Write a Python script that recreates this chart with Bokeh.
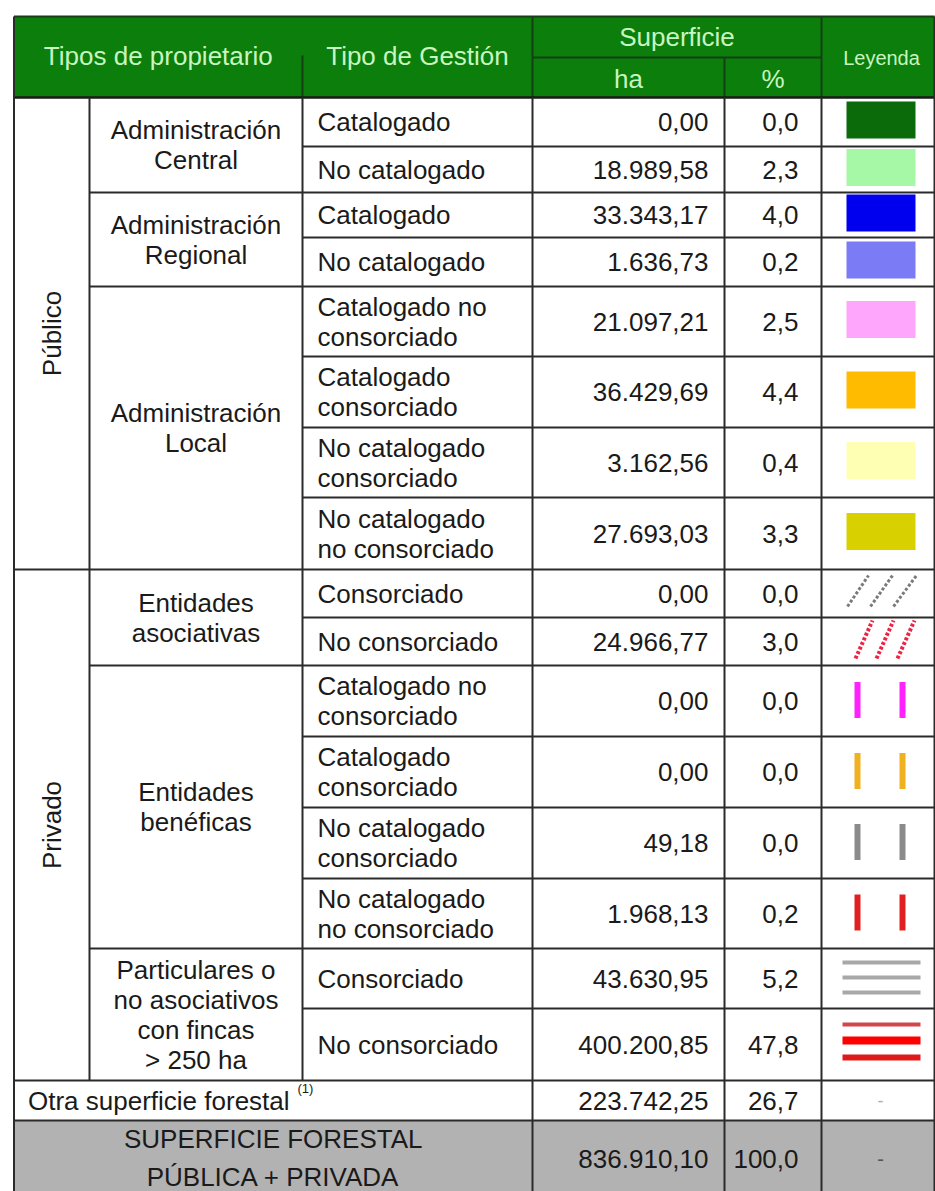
import math
from bokeh.plotting import figure
from bokeh.models import Range1d, ColumnDataSource
from bokeh.core.properties import value
from bokeh.embed import file_html
from bokeh.resources import INLINE

# ---------------- DATA ----------------
sectors = ["Público", "Privado"]
sector_rows = [8, 8]

owners = [
    "Administración\nCentral",
    "Administración\nRegional",
    "Administración\nLocal",
    "Entidades\nasociativas",
    "Entidades\nbenéficas",
    "Particulares o\nno asociativos\ncon fincas\n> 250 ha",
]
owner_rows = [2, 2, 4, 2, 4, 2]

gestion = [
    "Catalogado", "No catalogado",
    "Catalogado", "No catalogado",
    "Catalogado no\nconsorciado", "Catalogado\nconsorciado",
    "No catalogado\nconsorciado", "No catalogado\nno consorciado",
    "Consorciado", "No consorciado",
    "Catalogado no\nconsorciado", "Catalogado\nconsorciado",
    "No catalogado\nconsorciado", "No catalogado\nno consorciado",
    "Consorciado", "No consorciado",
]
ha = [0.00, 18989.58, 33343.17, 1636.73, 21097.21, 36429.69, 3162.56, 27693.03,
      0.00, 24966.77, 0.00, 0.00, 49.18, 1968.13, 43630.95, 400200.85]
pct = [0.0, 2.3, 4.0, 0.2, 2.5, 4.4, 0.4, 3.3, 0.0, 3.0, 0.0, 0.0, 0.0, 0.2, 5.2, 47.8]

other_label = "Otra superficie forestal"
other_note = "(1)"
other_ha = 223742.25
other_pct = 26.7

total_label = "SUPERFICIE FORESTAL\nPÚBLICA + PRIVADA"
total_ha = 836910.10
total_pct = 100.0

header_cols = ["Tipos de propietario", "Tipo de Gestión", "Superficie", "ha", "%", "Leyenda"]

# ---------------- STYLES / LAYOUT ----------------
legend_kind = ["box"] * 8 + ["hatch", "hatch"] + ["bars"] * 4 + ["lines_grey", "lines_red"]
legend_color = ["#0b6b0b", "#a6f7a6", "#0000ee", "#7b7bf5", "#fea6fb", "#ffbb00",
                "#ffffb3", "#d9d000", "#7a7a7a", "#ee2244", "#ff22ff", "#f0b020",
                "#8a8a8a", "#e02020", "#a8a8a8", "#e01a1a"]

FONT = "Liberation Sans"
LINE = "#2b2b2b"
HDR_BG = "#0b7e0b"
HDR_TXT = "#c8f5c0"
HDR_LINE = "#163f16"

W, H = 935, 1191
XL, X1, X2, X3, X4, X5, XR = 13.5, 89, 302, 532, 724, 821, 934
TOP, SUB, HBOT = 16, 57, 97
row_edges = [97, 146, 192, 237, 286, 356, 427, 497, 569, 617, 665, 736, 807, 878, 948, 1008, 1080]
OTHER = (1080, 1120)
TOTAL = (1120, 1191)
LH = 30

p = figure(width=W, height=H, x_range=Range1d(0, W), y_range=Range1d(H, 0),
           output_backend="svg", toolbar_location=None, x_axis_type=None, y_axis_type=None,
           min_border=0)
p.grid.visible = False
p.outline_line_color = None
p.background_fill_color = "white"
p.border_fill_color = "white"

# backgrounds
p.quad(left=[XL], right=[XR], top=[TOP], bottom=[HBOT], fill_color=HDR_BG, line_color=None)
p.quad(left=[XL], right=[XR], top=[TOTAL[0]], bottom=[TOTAL[1]], fill_color="#b2b2b2", line_color=None)

# ---------------- texts ----------------
groups = {}
def put(x, y, s, size="26px", color="#1a1a1a", align="left", angle=0.0, lh=LH):
    lines = s.split("\n")
    n = len(lines)
    key = (size, color, align, angle)
    g = groups.setdefault(key, {"x": [], "y": [], "text": []})
    for i, ln in enumerate(lines):
        off = (i - (n - 1) / 2) * lh
        if angle:
            g["x"].append(x + off)
            g["y"].append(y)
        else:
            g["x"].append(x)
            g["y"].append(y + off)
        g["text"].append(ln)

def fmt(v, d):
    s = f"{v:,.{d}f}"
    return s.replace(",", "#").replace(".", ",").replace("#", ".")

# header
put((XL + X2) / 2, 55, header_cols[0], color=HDR_TXT, align="center")
put((X2 + X3) / 2, 55, header_cols[1], color=HDR_TXT, align="center")
put((X3 + X5) / 2, 36, header_cols[2], color=HDR_TXT, align="center")
put((X3 + X4) / 2, 78, header_cols[3], color=HDR_TXT, align="center")
put((X4 + X5) / 2, 78, header_cols[4], color=HDR_TXT, align="center")
put(881, 57, header_cols[5], size="20px", color=HDR_TXT, align="center")

# sectors
r = 0
for s, n in zip(sectors, sector_rows):
    y0, y1 = row_edges[r], row_edges[r + n]
    put((XL + X1) / 2 + 0.5, (y0 + y1) / 2, s, align="center", angle=math.pi / 2)
    r += n

# owners
r = 0
owner_bounds = []
for o, n in zip(owners, owner_rows):
    y0, y1 = row_edges[r], row_edges[r + n]
    put((X1 + X2) / 2, (y0 + y1) / 2, o, align="center")
    owner_bounds.append(r + n)
    r += n

# rows
for i in range(len(gestion)):
    yc = (row_edges[i] + row_edges[i + 1]) / 2
    put(X2 + 15, yc, gestion[i])
    put(X4 - 16, yc, fmt(ha[i], 2), align="right")
    put(X5 - 23, yc, fmt(pct[i], 1), align="right")

# other row
yo = sum(OTHER) / 2
put(XL + 14, yo, other_label)
put(297, yo - 12, other_note, size="13px")
put(X4 - 16, yo, fmt(other_ha, 2), align="right")
put(X5 - 23, yo, fmt(other_pct, 1), align="right")
put(880, yo, "-", size="18px", color="#b0b0b0", align="center")

# total row
put((XL + X3) / 2, 1157, total_label, align="center", lh=38)
put(X4 - 16, 1158, fmt(total_ha, 2), align="right")
put(X5 - 23, 1158, fmt(total_pct, 1), align="right")
put(880, 1158, "-", size="20px", color="#555555", align="center")

for (size, color, align, angle), g in groups.items():
    p.text(x="x", y="y", text="text", source=ColumnDataSource(g), text_font=value(FONT),
           text_font_size=size, text_color=color, text_align=align,
           text_baseline="middle", angle=angle)

# ---------------- legend marks ----------------
bx = {"l": [], "r": [], "t": [], "b": [], "c": []}
seg = {"x0": [], "y0": [], "x1": [], "y1": [], "c": [], "w": []}
dseg = {"x0": [], "y0": [], "x1": [], "y1": [], "c": [], "w": []}
for i, (k, c) in enumerate(zip(legend_kind, legend_color)):
    yc = (row_edges[i] + row_edges[i + 1]) / 2
    if k == "box":
        bx["l"].append(846); bx["r"].append(915)
        bx["t"].append(yc - 20.5); bx["b"].append(yc + 16.5); bx["c"].append(c)
    elif k == "bars":
        for xb in (857, 902):
            bx["l"].append(xb - 3); bx["r"].append(xb + 3)
            bx["t"].append(yc - 19); bx["b"].append(yc + 17); bx["c"].append(c)
    elif k == "hatch":
        if i == 8:
            pts = [(847, 606, 868, 575), (870, 606, 892, 575), (893, 606, 916, 575)]
        else:
            pts = [(855, 658, 872, 620), (876, 658, 893, 620), (897, 658, 914, 620)]
        for (a, b_, c_, d) in pts:
            dseg["x0"].append(a); dseg["y0"].append(b_); dseg["x1"].append(c_); dseg["y1"].append(d)
            dseg["c"].append(c); dseg["w"].append(3.0 if i == 8 else 4.0)
    elif k == "lines_grey":
        for off in (-16, -1, 14):
            seg["x0"].append(842); seg["x1"].append(920)
            seg["y0"].append(yc + off); seg["y1"].append(yc + off)
            seg["c"].append(c); seg["w"].append(4)
    elif k == "lines_red":
        for off, w, cc in ((-20, 4, "#d04848"), (-4, 8, "#ff0000"), (13, 6, c)):
            seg["x0"].append(842); seg["x1"].append(920)
            seg["y0"].append(yc + off); seg["y1"].append(yc + off)
            seg["c"].append(cc); seg["w"].append(w)

p.quad(left="l", right="r", top="t", bottom="b", fill_color="c", line_color=None,
       source=ColumnDataSource(bx))
p.segment(x0="x0", y0="y0", x1="x1", y1="y1", line_color="c", line_width="w",
          source=ColumnDataSource(seg))
p.segment(x0="x0", y0="y0", x1="x1", y1="y1", line_color="c", line_width="w",
          line_dash="3 2", source=ColumnDataSource(dseg))

# ---------------- grid lines ----------------
g = {"x0": [], "y0": [], "x1": [], "y1": [], "c": [], "w": []}
def L(x0, y0, x1, y1, c=LINE, w=2):
    g["x0"].append(x0); g["y0"].append(y0); g["x1"].append(x1); g["y1"].append(y1)
    g["c"].append(c); g["w"].append(w)

# header lines
L(XL, TOP, XR, TOP, HDR_LINE, 2)
L(X3, SUB, X5, SUB, HDR_LINE, 2)
L(X4, SUB, X4, HBOT, HDR_LINE, 2)
L(X3, TOP, X3, HBOT, HDR_LINE, 2)
L(X5, TOP, X5, HBOT, HDR_LINE, 2)
L(X2, 55, X2, HBOT, HDR_LINE, 2)
L(XL, HBOT, XR, HBOT, "#1a1a1a", 2.5)

# verticals
L(XL, TOP, XL, TOTAL[1])
L(X1, HBOT, X1, OTHER[0])
L(X2, HBOT, X2, OTHER[0])
L(X3, HBOT, X3, TOTAL[1])
L(X4, HBOT, X4, TOTAL[1])
L(X5, HBOT, X5, TOTAL[1])
L(XR, TOP, XR, TOTAL[1])

# horizontals
sector_ends = []
acc = 0
for n in sector_rows:
    acc += n
    sector_ends.append(acc)
for k in range(1, len(row_edges) - 1):
    if k in sector_ends:
        L(XL, row_edges[k], XR, row_edges[k])
    elif k in owner_bounds:
        L(X1, row_edges[k], XR, row_edges[k])
    else:
        L(X2, row_edges[k], XR, row_edges[k])
L(XL, OTHER[0], XR, OTHER[0])
L(XL, OTHER[1], XR, OTHER[1])

p.segment(x0="x0", y0="y0", x1="x1", y1="y1", line_color="c", line_width="w",
          source=ColumnDataSource(g))

open("out.html", "w").write(file_html(p, INLINE))
